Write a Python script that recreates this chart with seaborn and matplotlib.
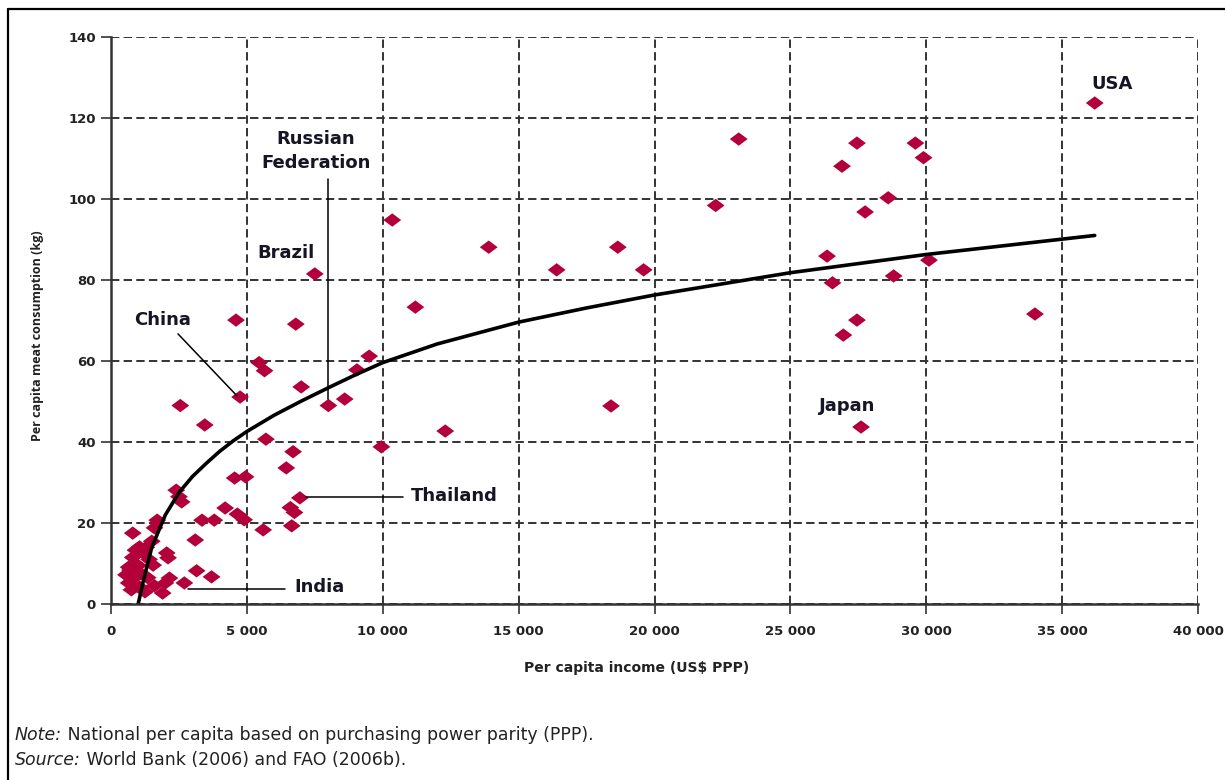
import matplotlib
matplotlib.use("Agg")
import matplotlib.pyplot as plt
import seaborn as sns
import pandas as pd
from matplotlib.lines import Line2D
from matplotlib.ticker import FuncFormatter

sns.set_theme(style="white")
plt.rcParams['font.family'] = ['DejaVu Sans']

# ---- data ----
income = [36200, 23100, 27450, 29600, 29900, 26900, 22250, 28600, 27750, 26350,
          30100, 26550, 28800, 27450, 26950, 34000, 27600,
          10350, 13900, 18650, 16400, 19600, 7500, 11200, 4600, 6800, 9500,
          5450, 5650, 9050, 7000, 4750, 8000, 8600, 18400, 2550, 12300, 3450,
          5700, 9950, 6700, 6450, 4550, 4950, 6950, 6600, 6750, 6650, 5600,
          4650, 4900, 4200, 3800, 3350, 3100,
          2400, 2600, 1700, 1600, 800, 1050, 900, 1200, 2050, 2100, 1550, 650,
          700, 550, 900, 650, 1050, 750, 1250, 1900, 2000, 2150, 2700, 3150,
          3700, 1300, 1500, 1400, 1000, 1600, 1350, 800, 1100, 2500]
meat = [123.7, 114.8, 113.8, 113.8, 110.2, 108.1, 98.4, 100.3, 96.8, 85.9,
        84.9, 79.3, 81.0, 70.1, 66.4, 71.6, 43.7,
        94.8, 88.1, 88.1, 82.5, 82.5, 81.5, 73.3, 70.1, 69.1, 61.2,
        59.6, 57.6, 57.8, 53.6, 51.1, 49.0, 50.6, 48.9, 49.0, 42.7, 44.2,
        40.7, 38.8, 37.6, 33.6, 31.1, 31.4, 26.2, 23.8, 22.6, 19.3, 18.3,
        22.2, 20.8, 23.7, 20.7, 20.7, 15.8,
        28.1, 25.2, 20.7, 18.8, 17.5, 14.1, 13.3, 12.6, 12.6, 11.4, 9.6, 9.1,
        8.4, 7.2, 6.7, 5.2, 4.2, 3.5, 3.0, 2.7, 5.2, 6.4, 5.2, 8.2,
        6.7, 14.0, 15.5, 11.0, 9.5, 4.5, 6.5, 11.5, 7.5, 26.5]

trend_income = [1000, 1200, 1500, 2000, 2500, 3000, 3500, 4000, 4500, 5000, 6000, 7000,
                8000, 9000, 10000, 12000, 15000, 17500, 20000, 25000, 30000, 36200]
trend_meat = [0, 6, 14, 22, 27.5, 31.5, 34.7, 37.7, 40.3, 42.6, 46.6, 50.1,
              53.4, 56.6, 59.6, 64.2, 69.6, 73.1, 76.3, 81.8, 86.3, 91]

x_ticks = [0, 5000, 10000, 15000, 20000, 25000, 30000, 35000, 40000]
y_ticks = [0, 20, 40, 60, 80, 100, 120, 140]

# label text, text x, text y, ha, leader line (x0, y0, x1, y1) or None
country_labels = [
    ("USA", 36830, 128.3, "center", None),
    ("Japan", 27080, 48.9, "center", None),
    ("Russian\nFederation", 7540, 111.9, "center", (7980, 105.0, 7980, 50.5)),
    ("Brazil", 6440, 86.7, "center", None),
    ("China", 1910, 70.1, "center", (2465, 66.7, 4635, 51.4)),
    ("Thailand", 11040, 26.7, "left", (7175, 26.4, 10740, 26.4)),
    ("India", 6730, 4.2, "left", (2830, 3.7, 6400, 3.7)),
]

df = pd.DataFrame({"income": income, "meat": meat})
trend = pd.DataFrame({"income": trend_income, "meat": trend_meat})

W, H = 1225, 780
fig = plt.figure(figsize=(W / 100, H / 100), dpi=100)
fig.patch.set_facecolor("white")
ax = fig.add_axes([111 / W, 1 - 604 / H, (1198 - 111) / W, (604 - 37) / H])

diamond = [(-1, 0), (0, 0.75), (1, 0), (0, -0.75), (-1, 0)]
sns.scatterplot(data=df, x="income", y="meat", ax=ax, marker=diamond, s=165,
                color="#B3003B", edgecolor="none", linewidth=0, zorder=3)
sns.lineplot(data=trend, x="income", y="meat", ax=ax, color="black", lw=2.6,
             sort=False, estimator=None, zorder=4)

ax.set_xlim(0, 40000)
ax.set_ylim(0, 140)
ax.set_xticks(x_ticks)
ax.set_yticks(y_ticks)
ax.xaxis.set_major_formatter(FuncFormatter(lambda v, p: f"{int(v):,}".replace(",", " ")))
ax.grid(True, linestyle=(0, (4.3, 2.2)), color="#333333", lw=1.4, zorder=1)
for s in ["top", "right"]:
    ax.spines[s].set_visible(False)
for s in ["left", "bottom"]:
    ax.spines[s].set_color("#333333")
    ax.spines[s].set_linewidth(1.8)
    ax.spines[s].set_zorder(5)
ax.tick_params(axis="both", direction="out", length=7, width=1.2, color="#333333",
               labelsize=9.5, labelcolor="#222222", left=True, bottom=True)
for lab in ax.get_xticklabels() + ax.get_yticklabels():
    lab.set_fontweight("bold")
ax.tick_params(axis="x", pad=8)
ax.tick_params(axis="y", pad=4)

ax.set_xlabel("Per capita income (US$ PPP)", fontsize=10, fontweight="bold",
              color="#222222")
ax.xaxis.set_label_coords(0.484, -0.101)
ax.set_ylabel("Per capita meat consumption (kg)", fontsize=9, fontweight="bold",
              color="#222222", family="Open Sans")
ax.yaxis.set_label_coords(-0.062, 0.473)

for text, tx, ty, ha, line in country_labels:
    ax.text(tx, ty, text, ha=ha, va="center", fontsize=13, fontweight="bold",
            color="#151525", zorder=6, linespacing=1.45)
    if line is not None:
        ax.plot([line[0], line[2]], [line[1], line[3]], color="black", lw=1.1, zorder=5)

# notes
t1 = fig.text(15 / W, 1 - 735 / H, "Note:", fontsize=12.5, style="italic", va="center",
              color="#222222")
ax.annotate(" National per capita based on purchasing power parity (PPP).",
            xy=(1, 0.5), xycoords=t1, va="center", ha="left", fontsize=12.5,
            color="#222222", annotation_clip=False)
t2 = fig.text(15 / W, 1 - 760 / H, "Source:", fontsize=12.5, style="italic", va="center",
              color="#222222")
ax.annotate(" World Bank (2006) and FAO (2006b).", xy=(1, 0.5), xycoords=t2,
            va="center", ha="left", fontsize=12.5, color="#222222", annotation_clip=False)

# frame lines
fig.add_artist(Line2D([7.5 / W, 7.5 / W], [0, 1 - 9 / H], transform=fig.transFigure,
                      color="black", lw=1.6))
fig.add_artist(Line2D([7.5 / W, 1], [1 - 9 / H, 1 - 9 / H], transform=fig.transFigure,
                      color="black", lw=1.6))

fig.savefig("out.png", dpi=100)
